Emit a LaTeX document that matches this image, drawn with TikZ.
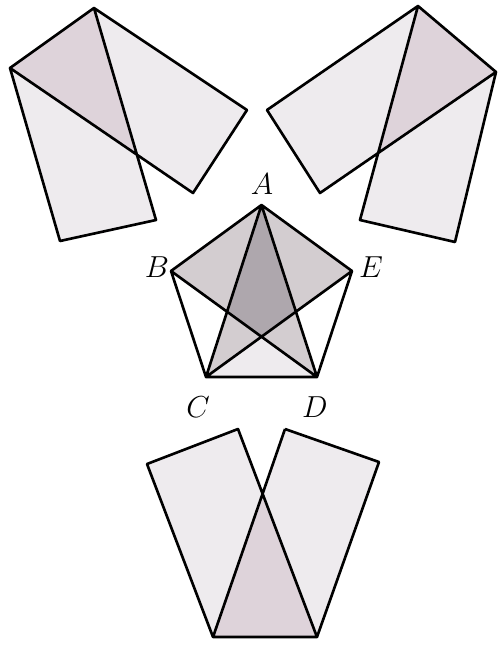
\documentclass[tikz,border=0pt]{standalone}
\definecolor{paper}{RGB}{238,235,238}
\definecolor{fold}{RGB}{222,211,218}
\definecolor{layer}{RGB}{211,205,208}
\definecolor{twofold}{RGB}{174,167,173}
\tikzset{edge/.style={line width=1.5pt,line join=round},
  vlabel/.style={font=\fontsize{17}{17}\selectfont}}
\begin{document}
\begin{tikzpicture}[x=0.02cm,y=-0.02cm]
  \useasboundingbox (0,0) rectangle (498,647);
  \coordinate (t1) at (94,8);   \coordinate (l1) at (10,68);
  \coordinate (r1a) at (247,110); \coordinate (r1b) at (193,193);
  \coordinate (b1a) at (60,241); \coordinate (b1b) at (156,220);
  \coordinate (x1) at (intersection of l1--r1b and t1--b1b);
  \coordinate (t2) at (418,6);  \coordinate (r2) at (496,72);
  \coordinate (l2a) at (267,110); \coordinate (l2b) at (320,193);
  \coordinate (b2a) at (360,220); \coordinate (b2b) at (455,242);
  \coordinate (x2) at (intersection of r2--l2b and t2--b2a);
  \coordinate (p3) at (147,464); \coordinate (q3) at (238,429);
  \coordinate (u3) at (285,429); \coordinate (v3) at (379,462);
  \coordinate (w3) at (213,637); \coordinate (z3) at (317,637);
  \coordinate (x3) at (intersection of q3--z3 and u3--w3);
  \coordinate (A) at (261.5,205); \coordinate (B) at (171,271);
  \coordinate (E) at (352,271);   \coordinate (C) at (206,377);
  \coordinate (D) at (317,377);
  \coordinate (P) at (intersection of B--D and C--E);
  \coordinate (Q1) at (intersection of A--C and B--D);
  \coordinate (Q2) at (intersection of A--D and C--E);
  \fill[paper] (l1) -- (t1) -- (r1a) -- (r1b) -- cycle (l1) -- (t1) -- (b1b) -- (b1a) -- cycle;
  \fill[fold] (t1) -- (l1) -- (x1) -- cycle;
  \fill[paper] (r2) -- (t2) -- (l2a) -- (l2b) -- cycle (r2) -- (t2) -- (b2a) -- (b2b) -- cycle;
  \fill[fold] (t2) -- (r2) -- (x2) -- cycle;
  \fill[paper] (p3) -- (q3) -- (z3) -- (w3) -- cycle (u3) -- (v3) -- (z3) -- (w3) -- cycle;
  \fill[fold] (x3) -- (w3) -- (z3) -- cycle;
  \fill[paper] (C) -- (P) -- (D) -- cycle;
  \fill[layer] (A) -- (B) -- (P) -- (E) -- cycle (Q1) -- (C) -- (P) -- cycle (Q2) -- (P) -- (D) -- cycle;
  \fill[twofold] (A) -- (Q1) -- (P) -- (Q2) -- cycle;
  \draw[edge] (l1) -- (t1) -- (r1a) -- (r1b) -- cycle (t1) -- (b1b) -- (b1a) -- (l1);
  \draw[edge] (r2) -- (t2) -- (l2a) -- (l2b) -- cycle (t2) -- (b2a) -- (b2b) -- (r2);
  \draw[edge] (p3) -- (q3) -- (z3) -- (w3) -- cycle (u3) -- (v3) -- (z3) (w3) -- (u3);
  \draw[edge] (A) -- (B) -- (C) -- (D) -- (E) -- cycle (A) -- (C) -- (E) (A) -- (D) -- (B);
  \node[vlabel] (la) at (262,184) {$A$};
  \node[vlabel] (lb) at (157,267) {$B$};
  \node[vlabel] (le) at (371,267) {$E$};
  \node[vlabel] (lc) at (198,407) {$C$};
  \node[vlabel] (ld) at (315,407) {$D$};
\end{tikzpicture}
\end{document}
